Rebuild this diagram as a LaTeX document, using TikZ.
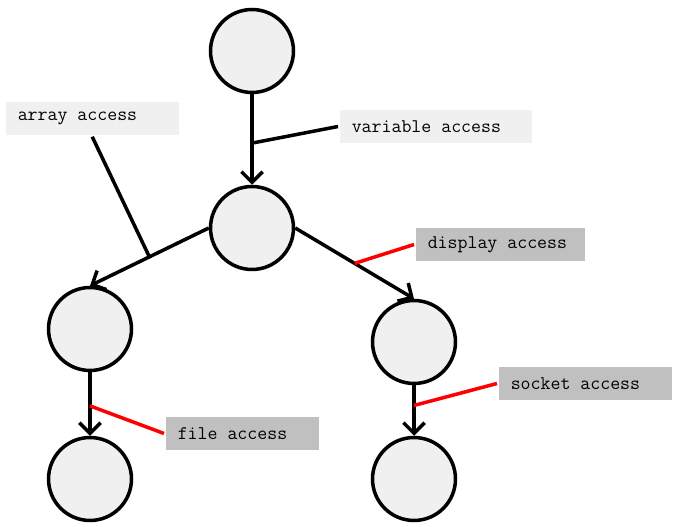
\documentclass[tikz,border=0pt]{standalone}
\usepackage{fontspec}
\usetikzlibrary{arrows.meta}
\definecolor{nodefill}{HTML}{F0F0F0}
\definecolor{tagfill}{HTML}{C0C0C0}

\begin{document}
\begin{tikzpicture}[x=0.02cm, y=-0.02cm, line width=2pt,
    vertex/.style={circle, draw, fill=nodefill, minimum size=1.66cm, inner sep=0pt},
    edge/.style={-{Straight Barb[length=6pt, width=12pt]}},
    tag/.style={anchor=west, font=\ttfamily\fontsize{11pt}{12pt}\selectfont,
        minimum height=0.66cm, inner xsep=0.24cm, inner ysep=0pt}]
    \useasboundingbox (0, 0) rectangle (674, 527);

    % tree
    \node [vertex] (top) at (252, 51) {};
    \node [vertex] (mid) at (252, 228) {};
    \node [vertex] (left) at (90, 329) {};
    \node [vertex] (right) at (414, 342) {};
    \node [vertex] (leftleaf) at (90, 479) {};
    \node [vertex] (rightleaf) at (414, 479) {};

    \draw [edge] (top) -- coordinate [pos=0.54] (varpt) (mid);
    \draw [edge] (mid.west) -- coordinate [pos=0.5] (arrpt) (left.north);
    \draw [edge] (mid.east) -- coordinate [pos=0.5] (disppt) (right.north);
    \draw [edge] (left) -- coordinate [pos=0.53] (filept) (leftleaf);
    \draw [edge] (right) -- coordinate [pos=0.4] (sockpt) (rightleaf);

    % labels
    \node [tag, fill=nodefill] (arr) at (4, 118.5) {\makebox[2.98cm][l]{array access}};
    \node [tag, fill=nodefill] (var) at (338, 126.5) {\makebox[3.36cm][l]{variable access}};
    \node [tag, fill=tagfill] (disp) at (414, 244.5) {\makebox[2.90cm][l]{display access}};
    \node [tag, fill=tagfill] (file) at (164, 433.5) {\makebox[2.58cm][l]{file access}};
    \node [tag, fill=tagfill] (sock) at (497, 383.5) {\makebox[2.98cm][l]{socket access}};

    \draw (arr.south) -- (arrpt);
    \draw (var.west) -- (varpt);
    \draw [red] (disp.west) -- (disppt);
    \draw [red] (file.west) -- (filept);
    \draw [red] (sock.west) -- (sockpt);
\end{tikzpicture}
\end{document}
